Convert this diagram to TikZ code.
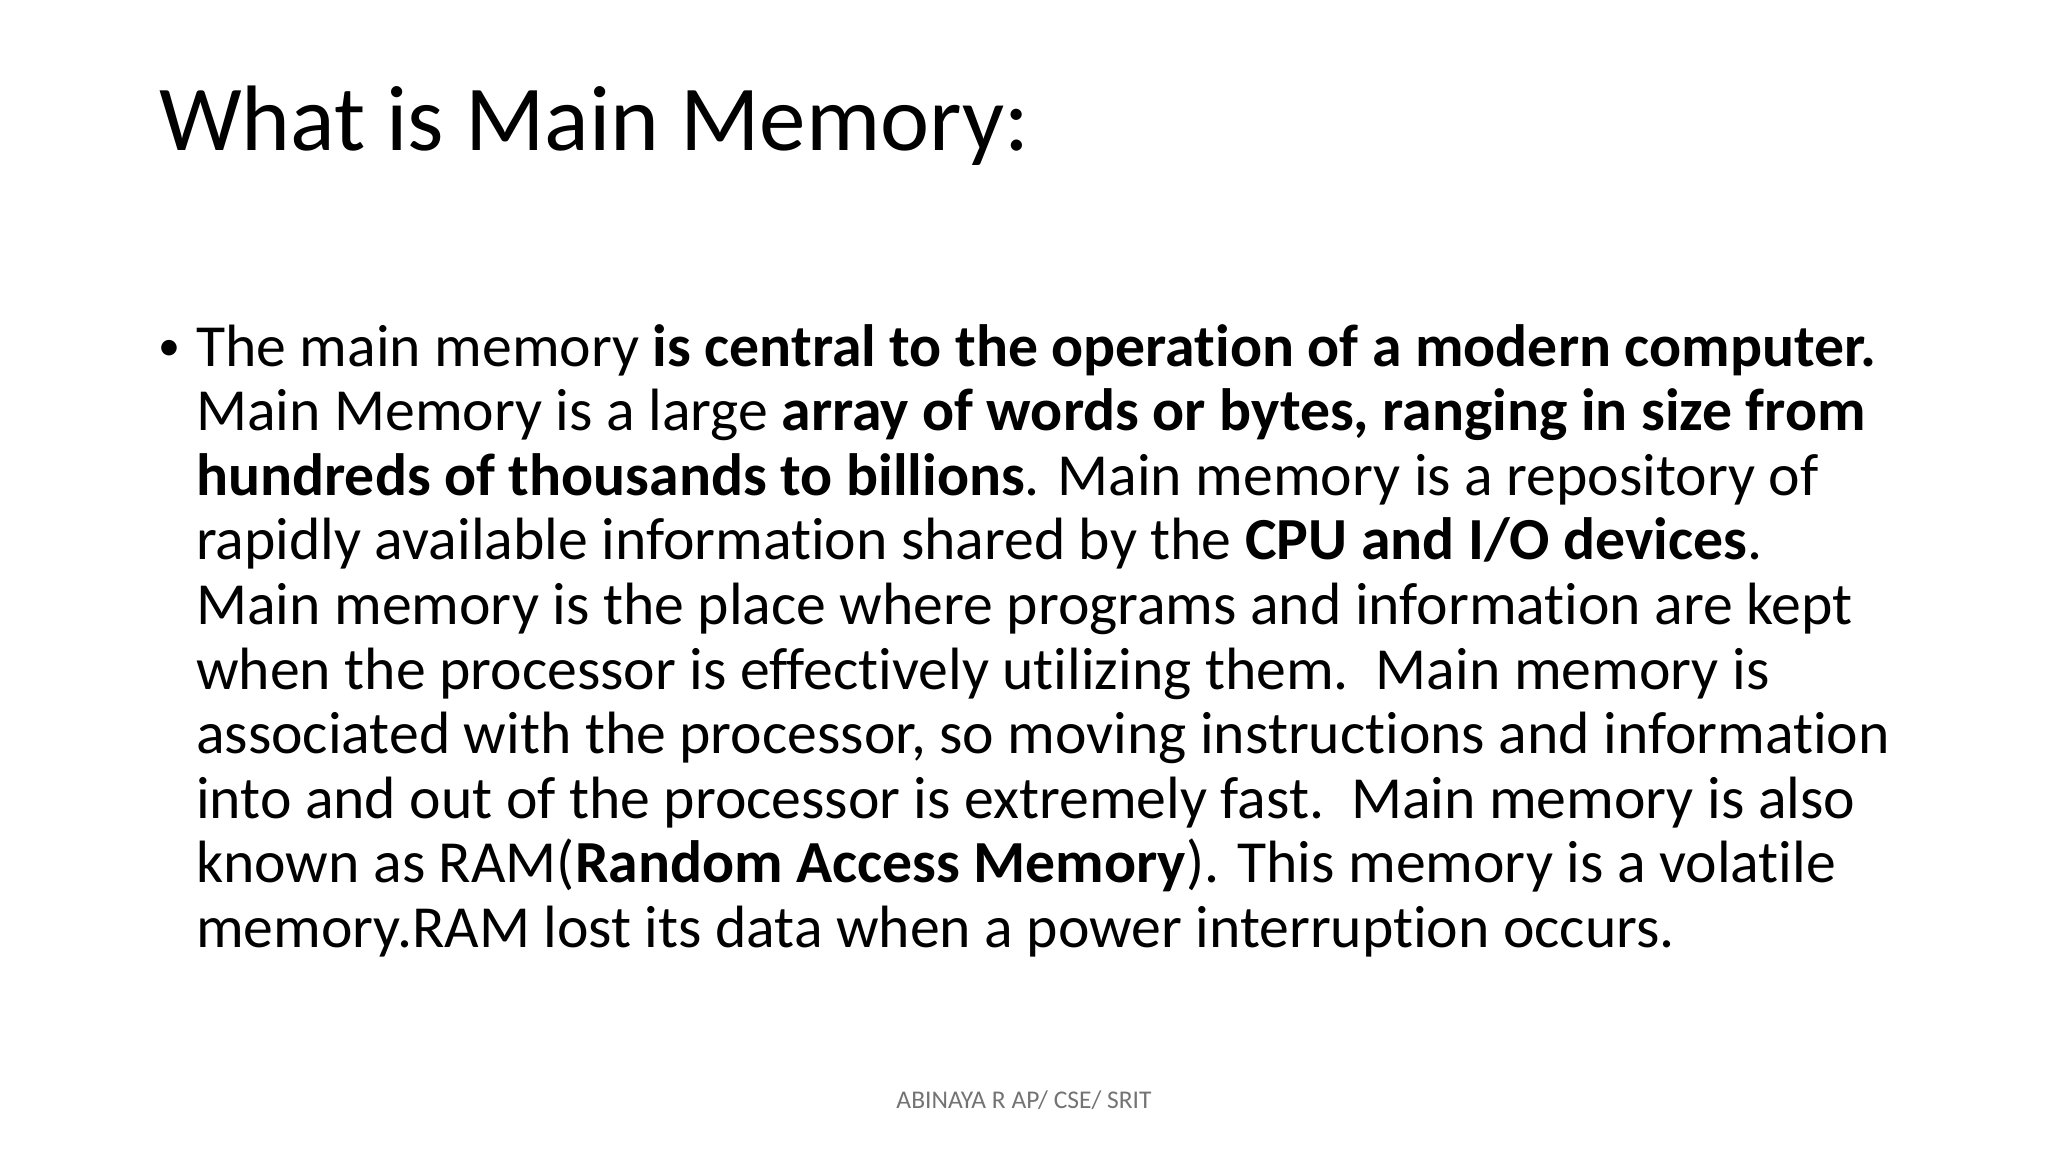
\documentclass[tikz,border=0pt]{standalone}
\usepackage{fontspec}
\setmainfont[Ligatures=NoCommon]{Carlito}
\begin{document}
\begin{tikzpicture}[x=1pt,y=-1pt,
  ln/.style={anchor=base west,inner sep=0pt,font=\fontsize{59.7}{64}\selectfont}]
\useasboundingbox (0,0) rectangle (2048,1152);
\fill[white] (0,0) rectangle (2048,1152);
\node[anchor=base west,inner sep=0pt,font=\fontsize{93}{100}\selectfont] (title) at (159,150) {What is Main Memory:};
\node[anchor=base west,inner sep=0pt,font=\fontsize{44}{50}\selectfont] (bul) at (158,360) {•};
\node[ln] (l1) at (196,366) {The main memory \textbf{is central to the operation of a modern computer.}};
\node[ln] (l2) at (196,430.6) {Main Memory is a large \textbf{array of words or bytes, ranging in size from}};
\node[ln] (l3) at (196,495.2) {\textbf{hundreds of thousands to billions}. Main memory is a repository of};
\node[ln] (l4) at (196,559.8) {rapidly available information shared by the \textbf{CPU and I/O devices}.};
\node[ln] (l5) at (196,624.4) {Main memory is the place where programs and information are kept};
\node[ln] (l6) at (196,689) {when the processor is effectively utilizing them.\ \ Main memory is};
\node[ln] (l7) at (196,753.6) {associated with the processor, so moving instructions and information};
\node[ln] (l8) at (196,818.2) {into and out of the processor is extremely fast.\ \ Main memory is also};
\node[ln] (l9) at (196,882.8) {known as RAM(\textbf{Random Access Memory}). This memory is a volatile};
\node[ln] (l10) at (196,947.4) {memory.RAM lost its data when a power interruption occurs.};
\node[anchor=base,inner sep=0pt,text=black!55,font=\fontsize{25.5}{28}\selectfont] (foot) at (1024,1108) {ABINAYA R AP/ CSE/ SRIT};
\end{tikzpicture}
\end{document}
